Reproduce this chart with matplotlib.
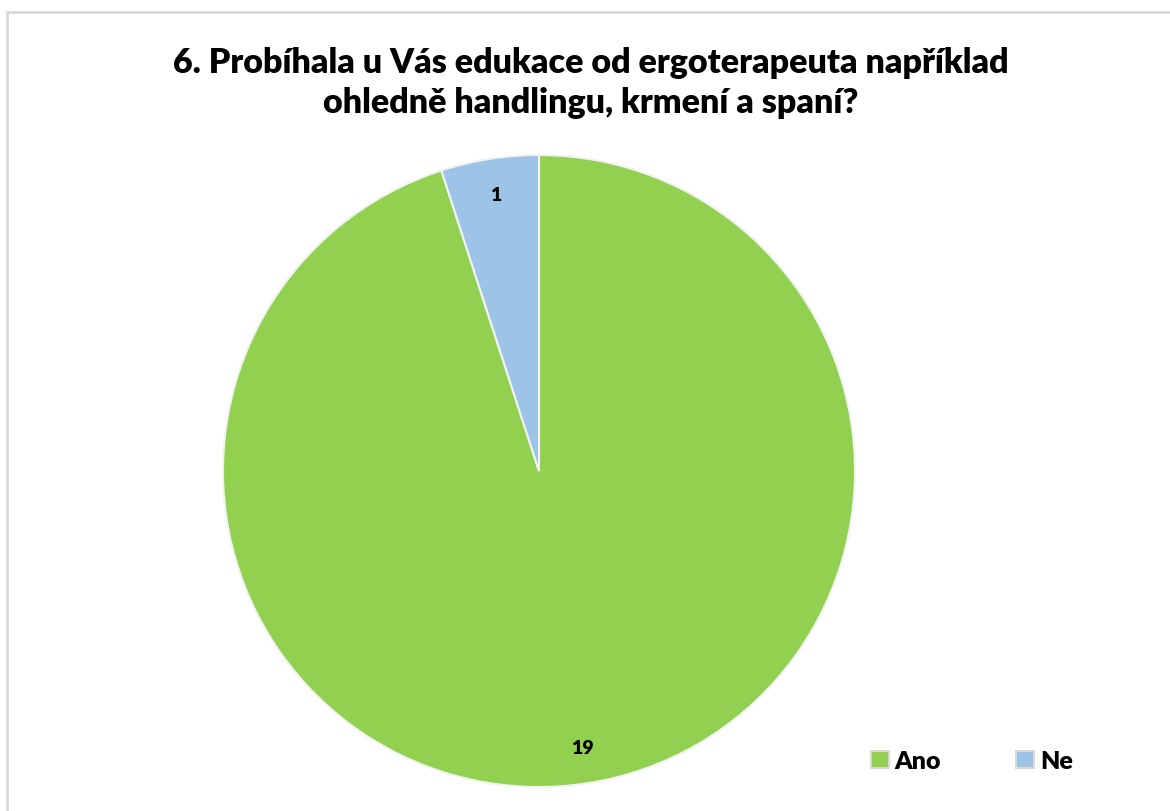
import matplotlib.pyplot as plt
from matplotlib.patches import Patch, Rectangle

# Data
labels = ['Ano', 'Ne']
values = [19, 1]
colors = ['#92D050', '#9DC3E6']
title = '6. Probíhala u Vás edukace od ergoterapeuta například\nohledně handlingu, krmení a spaní?'

plt.rcParams['font.family'] = ['Lato', 'DejaVu Sans']

W, H = 1170, 812
fig = plt.figure(figsize=(W / 100, H / 100), dpi=100)

# light grey chart border (only top and left visible)
fig.patches.append(Rectangle((7 / W, -0.05), 1.2, (H - 13) / H + 0.05,
                             transform=fig.transFigure, fill=False,
                             edgecolor='#d9d9d9', linewidth=2))

# pie area in pixel coords
cx, cy, r = 539, H - 472, 316
ax = fig.add_axes([(cx - r) / W, (cy - r) / H, 2 * r / W, 2 * r / H])

wedges, texts, autotexts = ax.pie(
    values, colors=colors, startangle=90, counterclock=False,
    autopct=lambda p: f'{round(p * sum(values) / 100):d}',
    pctdistance=0.885, radius=1,
    wedgeprops=dict(edgecolor='#f2f2f2', linewidth=1.5))
for t in autotexts:
    t.set_fontsize(14)
    t.set_fontweight('heavy')
    t.set_color('black')
ax.set_xlim(-1, 1)
ax.set_ylim(-1, 1)
ax.set_aspect('equal')

fig.text(591 / W, 1 - 83 / H, title, ha='center', va='center',
         fontsize=24.5, fontweight='heavy', linespacing=1.28)

handles = [Patch(facecolor=c, edgecolor='#d9d9d9', linewidth=1.5, label=l)
           for c, l in zip(colors, labels)]
leg = fig.legend(handles=handles, loc='center', bbox_to_anchor=(972 / W, 50 / H),
                 ncol=2, frameon=False, handlelength=0.7, handleheight=0.7,
                 handletextpad=0.25, columnspacing=3.0,
                 prop=dict(size=18, weight='heavy'))

fig.savefig('out.png', dpi=100)
